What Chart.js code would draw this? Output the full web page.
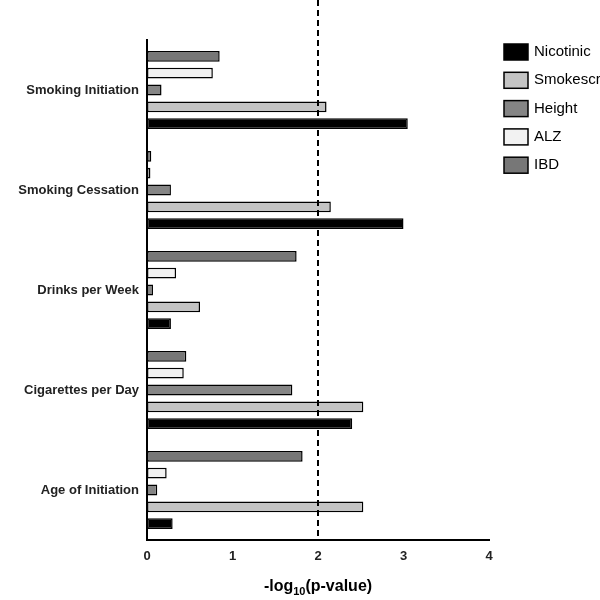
<!DOCTYPE html>
<html><head><meta charset="utf-8">
<script src="https://cdn.jsdelivr.net/npm/chart.js@4"></script>
<style>html,body{margin:0;padding:0;overflow:hidden;background:#fff;width:600px;height:600px}
#w{position:absolute;left:-40px;top:0;width:700px;height:600px}</style></head>
<body><div id="w"><canvas id="c" width="700" height="600"></canvas></div>
<script>
const categories=["Smoking Initiation","Smoking Cessation","Drinks per Week","Cigarettes per Day","Age of Initiation"];
const seriesNames=["IBD","ALZ","Height","Smokescreen","Nicotinic"];
const ibd=[0.85,0.05,1.75,0.46,1.82];
const alz=[0.77,0.04,0.34,0.43,0.23];
const height=[0.17,0.28,0.07,1.7,0.12];
const smokescreen=[2.1,2.15,0.62,2.53,2.53];
const nicotinic=[3.05,3.0,0.28,2.4,0.3];
const xTicks=[0,1,2,3,4];
const colors=["#777777","#f2f2f2","#858585","#c4c4c4","#000000"];
const vals=[ibd,alz,height,smokescreen,nicotinic];
const F='"Liberation Sans", Arial, sans-serif';
const extras={id:'extras',afterDraw(ch){
 const ctx=ch.ctx,x=ch.scales.x,a=ch.chartArea;
 ctx.save();
 ctx.strokeStyle='#000';ctx.lineWidth=2;ctx.setLineDash([6,4]);
 const px=x.getPixelForValue(2);
 ctx.beginPath();ctx.moveTo(px,0);ctx.lineTo(px,a.bottom);ctx.stroke();
 ctx.setLineDash([]);
 // legend
 const names=["Nicotinic","Smokescreen","Height","ALZ","IBD"];
 const cols=[colors[4],colors[3],colors[2],colors[1],colors[0]];
 ctx.font='15px '+F;ctx.textBaseline='middle';ctx.fillStyle='#000';
 names.forEach((n,i)=>{const y=52+i*28.3;
  ctx.fillStyle=cols[i];ctx.fillRect(544,y-8,24,16);
  ctx.lineWidth=1.5;ctx.strokeStyle='#000';ctx.strokeRect(544,y-8,24,16);
  ctx.fillStyle='#000';ctx.fillText(n,574,y);});
 // x title
 const cx=(a.left+a.right)/2;
 ctx.font='bold 16px '+F;
 const p1='-log',p2='10',p3='(p-value)';
 ctx.font='bold 16px '+F;const w1=ctx.measureText(p1).width,w3=ctx.measureText(p3).width;
 ctx.font='bold 11px '+F;const w2=ctx.measureText(p2).width;
 let sx=cx-(w1+w2+w3)/2;ctx.textAlign='left';ctx.textBaseline='alphabetic';
 ctx.font='bold 16px '+F;ctx.fillText(p1,sx,591);sx+=w1;
 ctx.font='bold 11px '+F;ctx.fillText(p2,sx,595);sx+=w2;
 ctx.font='bold 16px '+F;ctx.fillText(p3,sx,591);
 ctx.restore();}};
new Chart(document.getElementById('c'),{type:'bar',
 data:{labels:categories,datasets:seriesNames.map((n,i)=>({label:n,data:vals[i],backgroundColor:colors[i],borderColor:'#000',borderWidth:1.5,borderSkipped:false,categoryPercentage:0.84,barPercentage:0.64}))},
 options:{indexAxis:'y',responsive:false,animation:false,
  layout:{padding:{top:40,right:171,left:0,bottom:0}},
  plugins:{legend:{display:false},tooltip:{enabled:false}},
  scales:{
   x:{min:0,max:4,afterFit(s){s.height=60},afterBuildTicks(s){s.ticks=xTicks.map(v=>({value:v}))},
      grid:{display:false,drawTicks:true,tickLength:6,tickColor:'#000',tickWidth:2},border:{color:'#000',width:2},
      ticks:{color:'#222',font:{family:F,size:13,weight:'bold'},padding:3}},
   y:{afterFit(s){s.width=187},grid:{display:false,tickLength:7,tickColor:'#000',tickWidth:2},border:{color:'#000',width:2},
      ticks:{color:'#222',font:{family:F,size:13,weight:'bold'},padding:1}}}},
 plugins:[extras]});
</script></body></html>
